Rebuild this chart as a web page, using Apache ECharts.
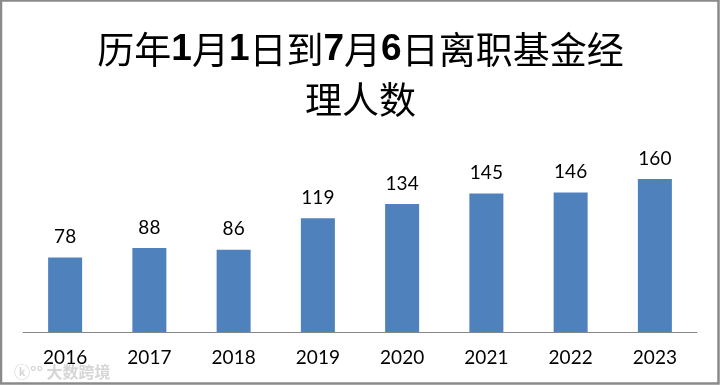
<!DOCTYPE html>
<html><head><meta charset="utf-8">
<script src="https://cdn.jsdelivr.net/npm/echarts@6/dist/echarts.min.js"></script>
<style>html,body{margin:0;padding:0;background:#fff}#c{width:721px;height:385px}</style>
</head><body><div id="c"></div>
<script>
const categories = ['2016','2017','2018','2019','2020','2021','2022','2023'];
const values = [78, 88, 86, 119, 134, 145, 146, 160];
const titleLine1 = ['历年','1','月','1','日到','7','月','6','日离职基金经'];
const titleLine2 = '理人数';

const chart = echarts.init(document.getElementById('c'));
const t1 = titleLine1.map(s => /^\d+$/.test(s) ? '{d|' + s + '}' : '{c|' + s + '}').join('');
chart.setOption({
  animation: false,
  backgroundColor: '#fff',
  title: {
    text: t1 + '\n{c|' + titleLine2 + '}',
    left: 'center',
    top: 20,
    textStyle: {
      rich: {
        c: {fontFamily: 'Noto Sans CJK SC', fontSize: 37, fontWeight: 'normal', color: '#000', lineHeight: 50},
        d: {fontFamily: 'Liberation Sans', fontSize: 37, fontWeight: 'bold', color: '#000', lineHeight: 50}
      }
    }
  },
  grid: {left: 23, right: 24, top: 160, bottom: 53},
  xAxis: {
    type: 'category',
    data: categories,
    axisLine: {lineStyle: {color: '#868686', width: 1}},
    axisTick: {show: false},
    axisLabel: {color: '#000', fontFamily: 'Lato', fontSize: 19, margin: 16}
  },
  yAxis: {
    type: 'value', min: 0, max: 180,
    show: false,
    splitLine: {show: false}
  },
  series: [{
    type: 'bar',
    data: values,
    barWidth: 34,
    itemStyle: {color: '#4F81BD'},
    label: {show: true, position: 'top', distance: 11, color: '#000', fontFamily: 'Lato', fontSize: 19}
  }],
  graphic: [
    {type: 'rect', shape: {x: 1, y: 0.5, width: 717.5, height: 383}, style: {fill: 'none', stroke: '#8a8a8a', lineWidth: 2.5}, silent: true},
    {type: 'text', left: 14, top: 364, style: {text: 'ⓚ°° 大数跨境', fill: '#d6d6d6', font: 'bold 16px "Noto Sans CJK SC"'}, silent: true}
  ]
});
</script></body></html>
